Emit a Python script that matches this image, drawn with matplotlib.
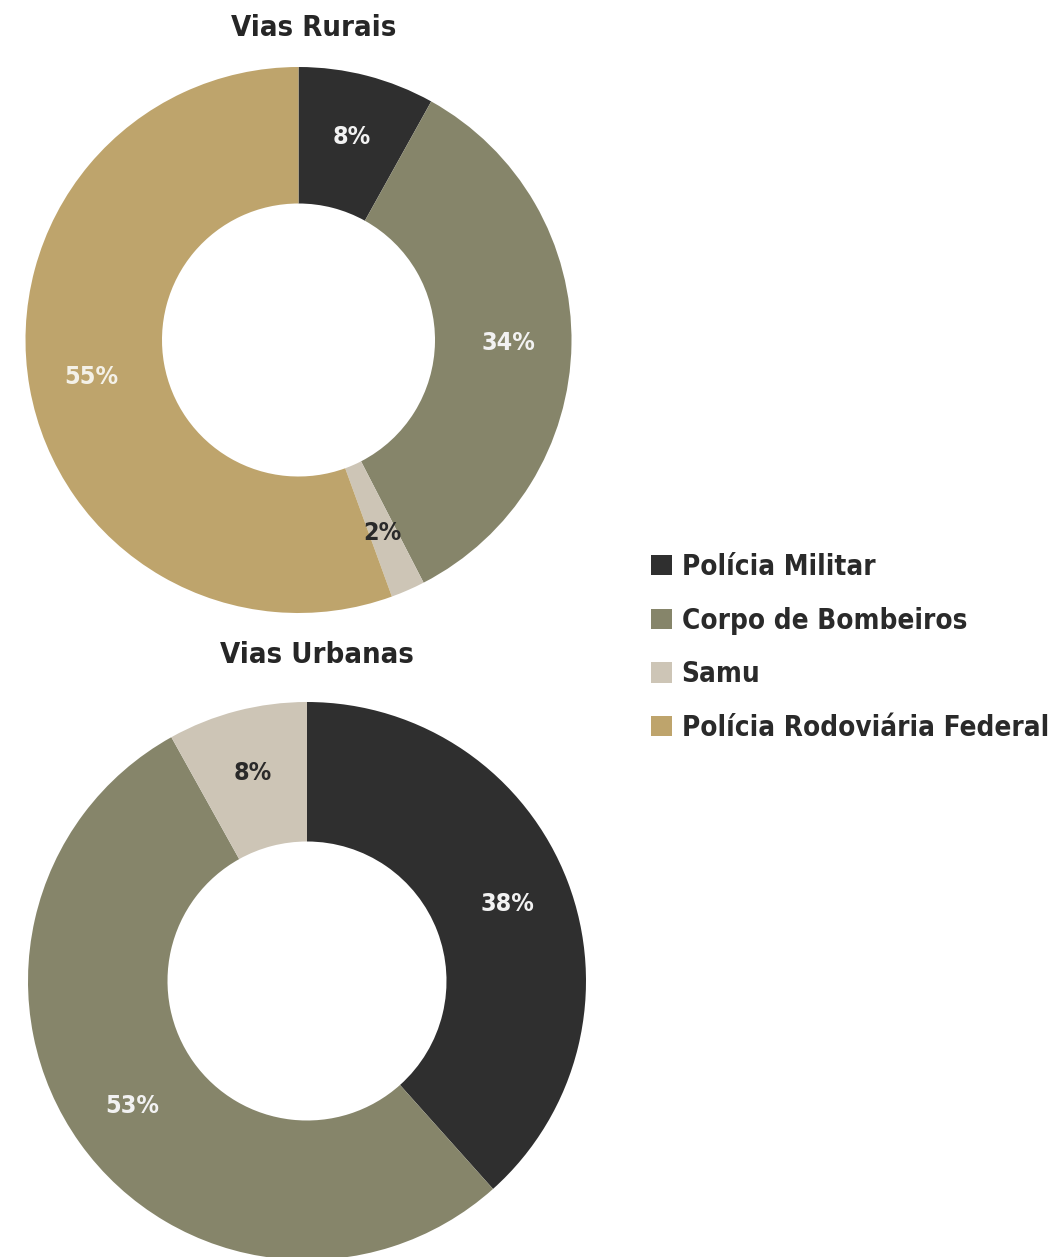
import numpy as np
import matplotlib.pyplot as plt
from matplotlib.patches import Patch

# categorias e cores
orgaos = ["Polícia Militar", "Corpo de Bombeiros", "Samu", "Polícia Rodoviária Federal"]
cores = ["#2f2f2f", "#86856a", "#cdc5b6", "#bea46c"]

# percentuais (%)
rurais = [8, 34, 2, 55]
urbanas = [38, 53, 8, 0]

# cor do texto dentro de cada fatia
cor_txt = ["#f2f2f2", "#f2f2f2", "#2a2a2a", "#f4f1e8"]

W, H = 1061, 1257
fig = plt.figure(figsize=(W / 100, H / 100), dpi=100)
fig.patch.set_facecolor("white")

fonte = ["DejaVu Sans"]


def rosca(cx, cy, r, valores, titulo, ty, tx):
    ax = fig.add_axes([(cx - r) / W, 1 - (cy + r) / H, 2 * r / W, 2 * r / H])
    idx = [i for i, v in enumerate(valores) if v > 0]
    vals = [valores[i] for i in idx]
    wedges, _ = ax.pie(vals, colors=[cores[i] for i in idx], startangle=90,
                       counterclock=False, radius=1,
                       wedgeprops=dict(width=0.5, linewidth=0))
    for w, i in zip(wedges, idx):
        ang = np.deg2rad((w.theta1 + w.theta2) / 2)
        d = 0.77
        ax.text(d * np.cos(ang), d * np.sin(ang), f"{valores[i]}%",
                ha="center", va="center", fontsize=18, fontweight="bold",
                color=cor_txt[i], family=fonte, fontstretch="condensed")
    ax.set_xlim(-1, 1)
    ax.set_ylim(-1, 1)
    ax.set_aspect("equal")
    ax.axis("off")
    fig.text(tx / W, 1 - ty / H, titulo, ha="center", va="center",
             fontsize=21, fontweight="heavy", color="#262626",
             family=fonte, fontstretch="condensed")


rosca(298.5, 340, 273, rurais, "Vias Rurais", 28, 314)
rosca(307, 981, 279, urbanas, "Vias Urbanas", 655, 317)

handles = [Patch(facecolor=c, edgecolor="none") for c in cores]
fig.legend(handles, orgaos, loc="upper left", bbox_to_anchor=(651 / W, 1 - 553 / H),
           frameon=False, handlelength=0.75, handleheight=0.75,
           handletextpad=0.35, labelspacing=0.92, borderpad=0, borderaxespad=0,
           prop=dict(family=fonte, weight="bold", size=20, stretch="condensed"),
           labelcolor="#2a2a2a")

plt.savefig("out.png", dpi=100)
